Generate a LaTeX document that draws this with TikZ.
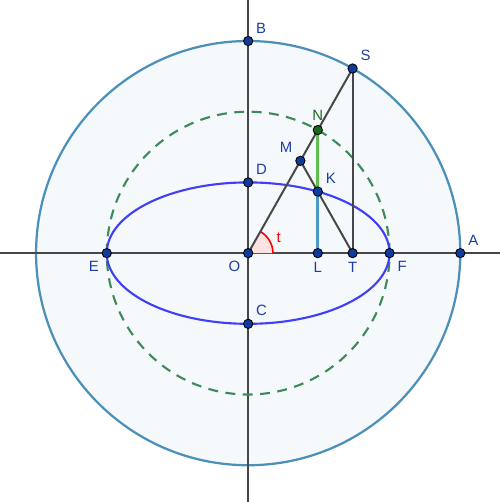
\documentclass[tikz,border=0pt]{standalone}
\usepackage{fontspec}
\setmainfont{Liberation Sans}
\usetikzlibrary{positioning}
\definecolor{circblue}{HTML}{4A90B8}
\definecolor{circfill}{HTML}{F6F9FC}
\definecolor{ellblue}{HTML}{3F3FF5}
\definecolor{dashgreen}{HTML}{3D8A5A}
\definecolor{segreen}{HTML}{5CC04C}
\definecolor{segblue}{HTML}{4A9AC8}
\definecolor{axisgray}{HTML}{474747}
\definecolor{ptblue}{HTML}{0F3C9C}
\definecolor{ptgreen}{HTML}{1B6A1B}
\definecolor{lblblue}{HTML}{1C3FA0}
\definecolor{anglefill}{HTML}{FDE2E2}
\tikzset{
  pt/.style={circle,fill=ptblue,draw=black,line width=0.7pt,inner sep=0pt,minimum size=7.5pt},
  lbl/.style={text=lblblue,font=\fontsize{12}{14}\selectfont,label distance=0pt},
  seg/.style={axisgray,line width=1.6pt},
}
\begin{document}
\begin{tikzpicture}[x=2cm,y=2cm]
          \useasboundingbox (-3.51,-3.52) rectangle (3.56,3.58);
          \pgfmathsetmacro{\ang}{60.5}
          \coordinate (O) at (0,0);
          \coordinate (A) at (3,0);
          \coordinate (B) at (0,3);
          \coordinate (C) at (0,-1);
          \coordinate (D) at (0,1);
          \coordinate (E) at (-2,0);
          \coordinate (F) at (2,0);
          \coordinate (S) at (\ang:3);
          \coordinate (N) at (\ang:2);
          \coordinate (M) at (\ang:1.5);
          \coordinate (K) at ({2*cos(\ang)},{sin(\ang)});
          \coordinate (L) at ({2*cos(\ang)},0);
          \coordinate (T) at ({3*cos(\ang)},0);
          % circles and ellipse
          \draw[circblue,fill=circfill,line width=1.8pt] (O) circle (3);
          \draw[seg] (-3.51,0) -- (3.56,0);
          \draw[seg] (0,-3.52) -- (0,3.58);
          \draw[dashgreen,line width=1.7pt,dash pattern=on 8pt off 6pt] (O) circle (2);
          \draw[ellblue,line width=1.7pt] (O) ellipse (2 and 1);
          % angle t
          \fill[anglefill] (O) -- (0.35,0) arc (0:\ang:0.35) -- cycle;
          \draw[red,line width=1.3pt] (0.35,0) arc (0:\ang:0.35);
          \node[red,font=\fontsize{12}{14}\selectfont] at (0.43,0.22) {t};
          % segments
          \draw[seg] (O) -- (S);
          \draw[seg] (S) -- (T);
          \draw[seg] (T) -- (M);
          \draw[segreen,line width=2.2pt] (N) -- (K);
          \draw[segblue,line width=2.2pt] (K) -- (L);
          % points
          \node[pt,label={[lbl]above right:B}] at (B) {};
          \node[pt,label={[lbl]above right:S}] at (S) {};
          \node[pt,fill=ptgreen,label={[lbl,text=ptgreen]above:N}] at (N) {};
          \node[pt,label={[lbl]above left:M}] at (M) {};
          \node[pt,label={[lbl]above right:K}] at (K) {};
          \node[pt,label={[lbl]above right:D}] at (D) {};
          \node[pt,label={[lbl]above right:C}] at (C) {};
          \node[pt,label={[lbl]below left:O}] at (O) {};
          \node[pt,label={[lbl]below:L}] at (L) {};
          \node[pt,label={[lbl]below:T}] at (T) {};
          \node[pt,label={[lbl]below right:F}] at (F) {};
          \node[pt,label={[lbl]above right:A}] at (A) {};
          \node[pt,label={[lbl]below left:E}] at (E) {};
        \end{tikzpicture}
\end{document}
